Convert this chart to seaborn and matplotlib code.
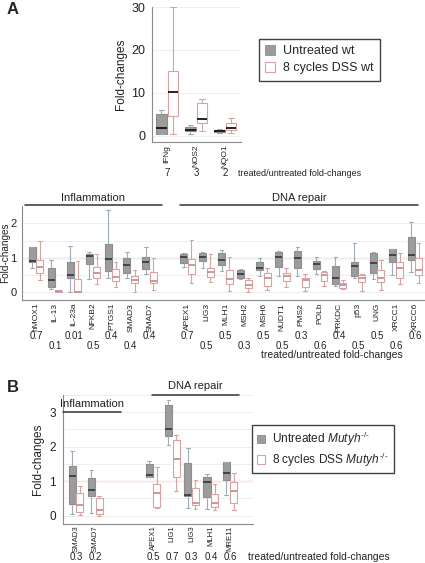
import numpy as np
import pandas as pd
import matplotlib.pyplot as plt
import matplotlib.transforms as mtrans
from matplotlib.lines import Line2D
from matplotlib.patches import Patch
import seaborn as sns

# ============== DATA (min, q1, median, q3, max) ==============
GROUPS = ["Untreated", "Treated"]

# A - top
TOP_GENES = ["IFNg", "NOS2", "NQO1"]
TOP_UNTREATED = [[0.4, 0.5, 1.8, 5.0, 6.1], [0.5, 1.1, 1.5, 2.1, 2.5], [0.8, 1.0, 1.2, 1.5, 1.7]]
TOP_TREATED = [[0.5, 4.7, 10.2, 15.0, 30.0], [1.1, 3.1, 4.0, 7.7, 8.6], [0.7, 1.3, 1.9, 3.0, 4.2]]
TOP_RATIO = ["7", "3", "2"]

# A - middle
INFL_GENES = ["hMOX1", "IL-13", "IL-23a", "NFKB2", "PTGS1", "SMAD3", "SMAD7"]
INFL_UNTREATED = [
    [0.70, 0.89, 0.92, 1.30, 1.30], [0.09, 0.16, 0.36, 0.72, 0.94], [0.00, 0.41, 0.50, 0.89, 1.34],
    [0.38, 0.82, 1.06, 1.11, 1.18], [0.43, 0.62, 0.96, 1.40, 2.39], [0.41, 0.55, 0.79, 0.99, 1.18],
    [0.52, 0.67, 0.89, 1.03, 1.30],
]
INFL_TREATED = [
    [0.36, 0.55, 0.74, 0.93, 1.49], [0.01, 0.02, 0.03, 0.04, 0.05], [0.00, 0.00, 0.00, 0.38, 0.91],
    [0.24, 0.43, 0.55, 0.74, 1.11], [0.16, 0.34, 0.45, 0.68, 0.89], [0.00, 0.26, 0.36, 0.47, 0.65],
    [0.07, 0.26, 0.34, 0.58, 1.00],
]
INFL_RATIO = ["0.7", "0.1", "0.01", "0.5", "0.4", "0.4", "0.4"]

REPAIR_GENES = ["APEX1", "LIG3", "MLH1", "MSH2", "MSH6", "NUDT1", "PMS2", "POLb", "PRKDC",
                "p53", "UNG", "XRCC1", "XRCC6"]
REPAIR_UNTREATED = [
    [0.74, 0.84, 1.03, 1.11, 1.15], [0.70, 0.92, 1.03, 1.15, 1.16], [0.63, 0.79, 0.94, 1.13, 1.23],
    [0.39, 0.43, 0.53, 0.65, 0.68], [0.47, 0.65, 0.70, 0.87, 0.99], [0.47, 0.74, 1.03, 1.18, 1.20],
    [0.47, 0.70, 0.99, 1.21, 1.30], [0.53, 0.67, 0.82, 0.92, 1.03], [0.19, 0.23, 0.43, 0.76, 1.03],
    [0.43, 0.47, 0.76, 0.87, 1.44], [0.38, 0.57, 0.84, 1.15, 1.16], [0.50, 0.89, 1.07, 1.25, 1.26],
    [0.60, 0.94, 1.08, 1.59, 2.05],
]
REPAIR_TREATED = [
    [0.26, 0.52, 0.79, 0.97, 1.52], [0.29, 0.45, 0.60, 0.72, 1.10], [0.05, 0.23, 0.38, 0.65, 1.03],
    [0.02, 0.14, 0.21, 0.36, 0.41], [0.07, 0.19, 0.41, 0.55, 0.72], [0.16, 0.34, 0.47, 0.57, 0.71],
    [0.04, 0.16, 0.36, 0.43, 0.52], [0.19, 0.34, 0.50, 0.60, 0.62], [0.10, 0.14, 0.21, 0.28, 0.36],
    [0.05, 0.31, 0.43, 0.50, 0.53], [0.07, 0.31, 0.41, 0.65, 0.94], [0.24, 0.41, 0.70, 0.87, 1.15],
    [0.26, 0.50, 0.65, 0.99, 1.44],
]
REPAIR_RATIO = ["0.7", "0.5", "0.5", "0.3", "0.5", "0.5", "0.3", "0.6", "0.4", "0.5", "0.5", "0.6", "0.6"]

# B
B_INFL_GENES = ["SMAD3", "SMAD7"]
B_REPAIR_GENES = ["APEX1", "LIG1", "LIG3", "MLH1", "MRE11"]
B_UNTREATED = [
    [0.05, 0.33, 1.15, 1.45, 1.88], [0.08, 0.58, 0.75, 1.08, 1.33],
    [1.12, 1.12, 1.17, 1.50, 1.58], [2.05, 2.30, 2.50, 3.20, 3.35], [0.22, 0.58, 0.60, 1.53, 1.97],
    [0.20, 0.54, 0.97, 1.13, 1.20], [0.60, 1.03, 1.24, 1.57, 1.57],
]
B_TREATED = [
    [0.02, 0.10, 0.30, 0.67, 0.87], [0.00, 0.05, 0.17, 0.52, 0.57],
    [0.22, 0.25, 0.67, 0.92, 1.41], [0.72, 1.12, 1.65, 2.20, 2.35], [0.20, 0.30, 0.38, 0.80, 1.03],
    [0.17, 0.25, 0.38, 0.63, 0.92], [0.17, 0.37, 0.71, 0.98, 1.23],
]
B_RATIO = ["0.3", "0.2", "0.5", "0.7", "0.3", "0.4", "0.6"]

# ============== STYLE ==============
STYLE = {
    "Untreated": dict(face="#9c9c9c", edge="#8c8c8c", whisker="#9eabbb", median="#3c3c3c"),
    "Treated": dict(face="white", edge="#d8a2a2", whisker="#d8a2a2", median="#c98f8f"),
}
W, H = 425, 563

sns.set_style("white")
plt.rcParams["font.family"] = ["Liberation Sans", "DejaVu Sans"]
plt.rcParams["mathtext.fontset"] = "custom"
plt.rcParams["mathtext.rm"] = "Liberation Sans"
plt.rcParams["mathtext.it"] = "Liberation Sans:italic"


def fx(px):
    return px / W


def fy(py):
    return 1 - py / H


def long_table(genes, untreated, treated):
    rows = []
    for g, u, t in zip(genes, untreated, treated):
        rows += [(g, GROUPS[0], v) for v in u]
        rows += [(g, GROUPS[1], v) for v in t]
    return pd.DataFrame(rows, columns=["gene", "group", "fold"])


def draw_boxes(ax, df, order, top_median_black=False, label_size=6):
    for grp in GROUPS:
        st = STYLE[grp]
        med = "#111111" if top_median_black else st["median"]
        sns.boxplot(data=df[df["group"] == grp], x="gene", y="fold", hue="group",
                    hue_order=GROUPS, order=order, dodge=True,
                    palette={g: st["face"] for g in GROUPS},
                    whis=(0, 100), width=0.8, gap=0.08, linecolor=st["edge"],
                    linewidth=0.8, legend=False, ax=ax,
                    whiskerprops=dict(color=st["whisker"]),
                    capprops=dict(color=st["whisker"]),
                    medianprops=dict(color=med, linewidth=1.3))
    ax.set_xticks(range(len(order)))
    ax.set_xticklabels([o.strip() for o in order], rotation=90, fontsize=label_size)
    ax.set_xlabel("")
    ax.set_ylabel("Fold-changes", fontsize=8, color="#222222")
    for s in ["top", "right"]:
        ax.spines[s].set_visible(False)
    for s in ["left", "bottom"]:
        ax.spines[s].set_color("#8a8a8a")
        ax.spines[s].set_linewidth(0.8)
    ax.tick_params(axis="x", length=0, pad=2, colors="#222222")
    ax.tick_params(axis="y", which="both", length=3, width=0.6, color="#8a8a8a",
                   labelsize=8.5, labelcolor="#222222", pad=2)
    ax.grid(axis="y", which="both", color="#efefef", linewidth=0.7)
    ax.set_axisbelow(True)


def ratio_texts(fig, ax, positions, labels, ys):
    tr = mtrans.blended_transform_factory(ax.transData, fig.transFigure)
    for i, (p, lab) in enumerate(zip(positions, labels)):
        fig.text(p, fy(ys[i % len(ys)]), lab, transform=tr, ha="center", va="center",
                 fontsize=7, color="#222222")


def section(fig, x0, x1, y_line, label, y_text):
    fig.add_artist(Line2D([fx(x0), fx(x1)], [fy(y_line), fy(y_line)], color="#333333", lw=1.1))
    fig.text(fx((x0 + x1) / 2), fy(y_text), label, ha="center", va="center",
             fontsize=8, color="#222222")


fig = plt.figure(figsize=(W / 100, H / 100), dpi=100)

# ---- A top ----
ax1 = fig.add_axes([fx(152), fy(142), fx(241) - fx(152), (142 - 7) / H])
draw_boxes(ax1, long_table(TOP_GENES, TOP_UNTREATED, TOP_TREATED), TOP_GENES, top_median_black=True)
ax1.set_ylim(-1.4, 30)
ax1.set_xlim(-0.52, 2.55)
ax1.set_yticks([0, 10, 20, 30])
ax1.tick_params(axis="y", labelsize=9)
ax1.set_ylabel("Fold-changes", fontsize=8.5, color="#222222", labelpad=3)
ratio_texts(fig, ax1, range(3), TOP_RATIO, [173])
fig.text(fx(238), fy(173), "treated/untreated fold-changes", ha="left", va="center",
         fontsize=6.5, color="#222222")

# ---- A middle ----
order_mid = INFL_GENES + [" "] + REPAIR_GENES
ax2 = fig.add_axes([fx(22), fy(300), 1 - fx(22), (300 - 206) / H])
df_mid = long_table(INFL_GENES + REPAIR_GENES, INFL_UNTREATED + REPAIR_UNTREATED,
                    INFL_TREATED + REPAIR_TREATED)
draw_boxes(ax2, df_mid, order_mid)
ax2.axhline(1, color="#e6a898", lw=0.9, zorder=0.5)
ax2.set_ylim(-0.22, 2.5)
ax2.set_xlim(-0.74, 20.53)
ax2.set_yticks([0, 1, 2])
ax2.set_yticks([0.5, 1.5], minor=True)
ax2.tick_params(axis="y", labelsize=8, pad=1)
ax2.set_ylabel("Fold-changes", fontsize=7.2, color="#222222")
ax2.yaxis.set_label_coords(-0.029, 0.5)
pos_mid = [order_mid.index(g) for g in INFL_GENES + REPAIR_GENES]
ratio_texts(fig, ax2, pos_mid[:7], INFL_RATIO, [336, 346])
ratio_texts(fig, ax2, pos_mid[7:], REPAIR_RATIO, [336, 346])
fig.text(fx(332), fy(355), "treated/untreated fold-changes", ha="center", va="center",
         fontsize=7.5, color="#222222")
section(fig, 25, 162, 205, "Inflammation", 198)
section(fig, 180, 418, 205, "DNA repair", 198)

# ---- B ----
order_b = B_INFL_GENES + [" ", "  "] + B_REPAIR_GENES
ax3 = fig.add_axes([fx(63), fy(524), fx(253) - fx(63), (524 - 395) / H])
df_b = long_table(B_INFL_GENES + B_REPAIR_GENES, B_UNTREATED, B_TREATED)
draw_boxes(ax3, df_b, order_b, label_size=5.6)
ax3.axhline(1, color="#e6a898", lw=0.9, zorder=0.5)
ax3.set_ylim(-0.24, 3.5)
ax3.set_xlim(-0.68, 9.19)
ax3.set_yticks([0, 1, 2, 3])
ax3.set_yticks([0.5, 1.5, 2.5, 3.5], minor=True)
ax3.tick_params(axis="x", pad=1)
ax3.set_ylabel("Fold-changes", fontsize=8.5, color="#222222", labelpad=4)
pos_b = [order_b.index(g) for g in B_INFL_GENES + B_REPAIR_GENES]
ratio_texts(fig, ax3, pos_b, B_RATIO, [557])
fig.text(fx(248), fy(557), "treated/untreated fold-changes", ha="left", va="center",
         fontsize=7.5, color="#222222")
section(fig, 63, 121, 412, "Inflammation", 404)
section(fig, 152, 239, 395, "DNA repair", 386)

# ---- legends ----
leg_kw = dict(loc="upper left", frameon=True, fancybox=False,
              handlelength=0.8, handleheight=0.8, handletextpad=0.6, borderpad=0.5,
              labelspacing=0.4, edgecolor="#111111", borderaxespad=0)
hA = [Patch(facecolor=STYLE["Untreated"]["face"], edgecolor=STYLE["Untreated"]["edge"], lw=0.6),
      Patch(facecolor="white", edgecolor=STYLE["Treated"]["edge"], lw=0.8)]
legA = fig.legend(hA, ["Untreated wt", "8 cycles DSS wt"], fontsize=9,
                  bbox_to_anchor=(fx(259), fy(39)), **leg_kw)
legA.get_frame().set_linewidth(1.0)
leg_kw.update(labelspacing=0.2, borderpad=0.4, handlelength=0.7, handleheight=0.7)
legB = fig.legend(hA, ["Untreated $\\it{Mutyh}^{\u2010/\u2010}$",
                       "8 cycles DSS $\\it{Mutyh}^{\u2010/\u2010}$"],
                  fontsize=8.6, bbox_to_anchor=(fx(252), fy(425)), **leg_kw)
legB.get_frame().set_linewidth(1.0)

fig.text(fx(7), fy(10), "A", fontsize=12, fontweight="bold", va="center")
fig.text(fx(7), fy(388), "B", fontsize=12, fontweight="bold", va="center")

fig.savefig("out.png", dpi=100)
